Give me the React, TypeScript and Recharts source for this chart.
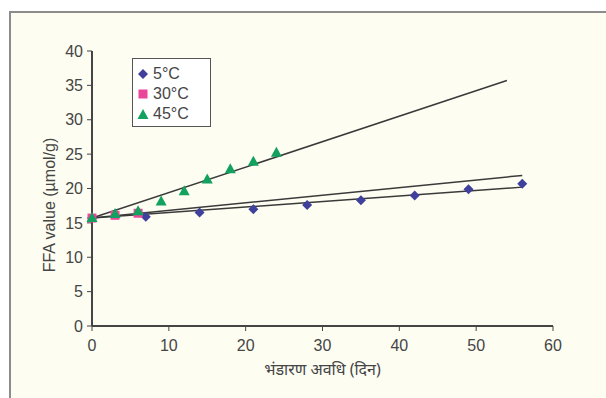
import React from 'react';
import {
    ComposedChart, Scatter, Line, XAxis, YAxis
} from 'recharts';

// storage days and FFA values
const days5 = [0, 7, 14, 21, 28, 35, 42, 49, 56];
const ffa5 = [15.7, 15.9, 16.5, 17.0, 17.6, 18.3, 19.0, 19.9, 20.7];

const days30 = [0, 3, 6];
const ffa30 = [15.7, 16.1, 16.4];

const days45 = [0, 3, 6, 9, 12, 15, 18, 21, 24];
const ffa45 = [15.7, 16.3, 16.7, 18.1, 19.6, 21.3, 22.8, 23.9, 25.2];

// linear trend lines (start / end)
const trendDays5 = [0, 56];
const trend5 = [15.7, 20.2];
const trendDays30 = [0, 56];
const trend30 = [15.7, 21.9];
const trendDays45 = [0, 54];
const trend45 = [15.7, 35.7];

const xTicks = [0, 10, 20, 30, 40, 50, 60];
const yTicks = [0, 5, 10, 15, 20, 25, 30, 35, 40];

const seriesNames = ['5°C', '30°C', '45°C'];

const toRows = (xs: number[], ys: number[]) => xs.map((d, i) => ({ day: d, ffa: ys[i] }));

const BLUE = '#3f3f9c';
const PINK = '#ea479b';
const GREEN = '#12a15f';
const AXIS = '#454545';
const FONT = "'Liberation Sans', Arial, sans-serif";

const Diamond = ({ cx, cy }: any) => (
    <polygon points={`${cx},${cy - 5} ${cx + 5},${cy} ${cx},${cy + 5} ${cx - 5},${cy}`} fill={BLUE} />
);
const Square = ({ cx, cy }: any) => (
    <rect x={cx - 4.5} y={cy - 4.5} width={9} height={9} fill={PINK} />
);
const Triangle = ({ cx, cy }: any) => (
    <polygon points={`${cx},${cy - 6} ${cx + 5.5},${cy + 4} ${cx - 5.5},${cy + 4}`} fill={GREEN} />
);

const LegendBox = () => {
    const marks = [
        <svg width={14} height={14} key="d"><Diamond cx={7} cy={7} /></svg>,
        <svg width={14} height={14} key="s"><Square cx={7} cy={7} /></svg>,
        <svg width={14} height={14} key="t"><Triangle cx={7} cy={8} /></svg>,
    ];
    return (
        <div style={{
            position: 'absolute', left: 132, top: 58, width: 79, height: 69,
            background: '#fff', border: '1px solid #555',
            boxSizing: 'border-box', padding: '5px 0 0 3px', fontFamily: FONT, fontSize: 16, color: AXIS
        }}>
            {seriesNames.map((n, i) => (
                <div key={n} style={{ display: 'flex', alignItems: 'center', height: 20, lineHeight: '20px' }}>
                    {marks[i]}
                    <span style={{ marginLeft: 3 }}>{n}</span>
                </div>
            ))}
        </div>
    );
};

const YLabel = () => (
    <text
        x={49} y={205} transform="rotate(-90, 49, 205)" textAnchor="middle" dominantBaseline="central"
        fill={AXIS} fontSize={16} fontFamily={FONT}
    >
        FFA value (µmol/g)
    </text>
);

export default function App() {
    return (
        <div style={{ position: 'absolute', left: 0, top: 0, width: 606, height: 398, background: '#fff', overflow: 'hidden' }}>
            <div style={{
                position: 'absolute', left: 9, top: 11, width: 640, height: 420,
                border: '2px solid #8c8c8c', background: '#fdfdf2'
            }} />
            <div style={{ position: 'absolute', left: 0, top: 0 }}>
                <ComposedChart width={606} height={398} margin={{ top: 51, right: 53, bottom: 0, left: 0 }}>
                    <XAxis
                        type="number" dataKey="day" domain={[0, 60]} ticks={xTicks} height={72}
                        stroke={AXIS} axisLine={{ stroke: AXIS, strokeWidth: 2 }} tickLine={{ stroke: AXIS }}
                        tickSize={5} tickMargin={9} tick={{ fill: AXIS, fontSize: 16, fontFamily: FONT }}
                        label={{
                            value: 'भंडारण अवधि (दिन)', position: 'insideTop', offset: 38,
                            fill: AXIS, fontSize: 16, fontFamily: "'Noto Sans', 'Liberation Sans', sans-serif"
                        }}
                    />
                    <YAxis
                        type="number" dataKey="ffa" domain={[0, 40]} ticks={yTicks} width={92}
                        stroke={AXIS} axisLine={{ stroke: AXIS, strokeWidth: 2 }} tickLine={{ stroke: AXIS }}
                        tickSize={5} tickMargin={4} tick={{ fill: AXIS, fontSize: 16, fontFamily: FONT }}
                        label={{ content: () => <YLabel /> }}
                    />
                    <Scatter name="5°C" data={toRows(days5, ffa5)} shape={<Diamond />} isAnimationActive={false} />
                    <Scatter name="30°C" data={toRows(days30, ffa30)} shape={<Square />} isAnimationActive={false} />
                    <Scatter name="45°C" data={toRows(days45, ffa45)} shape={<Triangle />} isAnimationActive={false} />
                    <Line data={toRows(trendDays5, trend5)} dataKey="ffa" type="linear" stroke="#3a3a3a" strokeWidth={1.5} dot={false} activeDot={false} legendType="none" isAnimationActive={false} />
                    <Line data={toRows(trendDays30, trend30)} dataKey="ffa" type="linear" stroke="#3a3a3a" strokeWidth={1.5} dot={false} activeDot={false} legendType="none" isAnimationActive={false} />
                    <Line data={toRows(trendDays45, trend45)} dataKey="ffa" type="linear" stroke="#3a3a3a" strokeWidth={1.5} dot={false} activeDot={false} legendType="none" isAnimationActive={false} />
                </ComposedChart>
            </div>
            <LegendBox />
        </div>
    );
}
